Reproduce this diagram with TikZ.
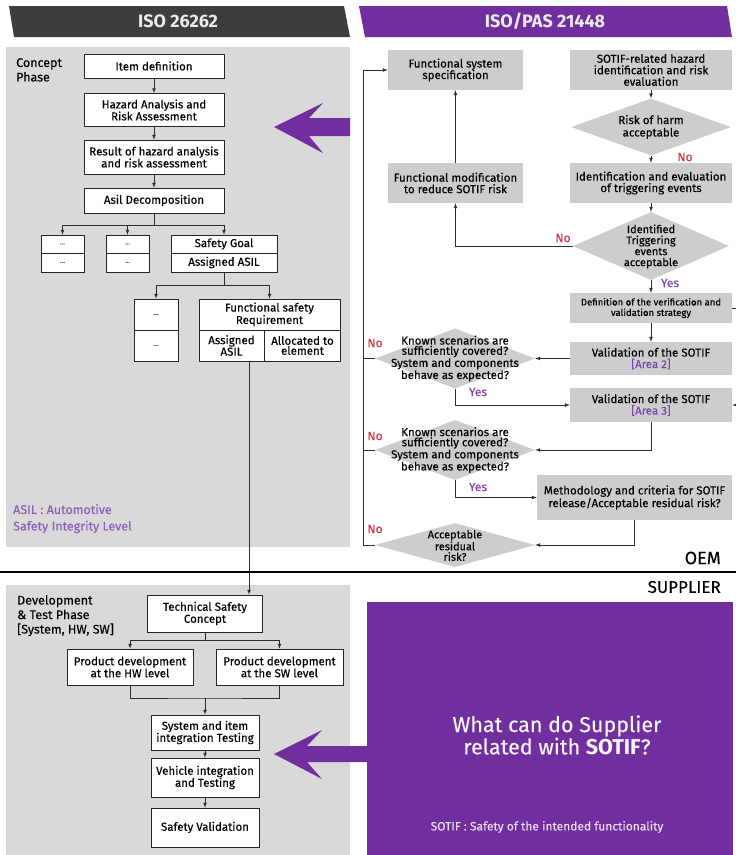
\documentclass[tikz,border=0pt]{standalone}
\usepackage{fontspec}
\setmainfont{Fira Sans}[FakeBold=0.2,BoldFeatures={FakeBold=0}]
\usetikzlibrary{arrows,shapes,positioning,calc}

\definecolor{panelgray}{RGB}{217,217,217}
\definecolor{boxgray}{RGB}{205,205,205}
\definecolor{darkbar}{RGB}{61,61,61}
\definecolor{sotifpurple}{RGB}{112,46,158}
\definecolor{nored}{RGB}{214,48,60}
\definecolor{yespurple}{RGB}{122,72,172}
\definecolor{asilpurple}{RGB}{140,96,180}
\definecolor{linegray}{RGB}{45,45,45}

\begin{document}
\begin{tikzpicture}[x=1pt,y=-1pt]
\tikzstyle{every node}+=[inner sep=0pt]
\tikzstyle{wbox}=[draw=black!85,fill=white,line width=0.6pt,align=center,font=\fontsize{11.5}{12}\selectfont]
\tikzstyle{gbox}=[fill=boxgray,align=center,font=\fontsize{11.5}{11.5}\selectfont]
\tikzstyle{dia}=[diamond,fill=boxgray]
\tikzstyle{dtext}=[align=center,font=\fontsize{11.5}{10.2}\selectfont]
\tikzstyle{dots}=[wbox,font=\fontsize{7}{8}\selectfont,text=black!70]
\tikzstyle{line}=[draw=linegray,line width=0.7pt]
\tikzstyle{arr}=[line,-latex]
\tikzstyle{nolabel}=[text=nored,font=\fontsize{12}{13}\selectfont]
\tikzstyle{yeslabel}=[text=yespurple,font=\fontsize{12}{13}\selectfont]
\tikzstyle{phase}=[align=left,anchor=north west,font=\fontsize{12.5}{14.5}\selectfont]
\tikzstyle{headtext}=[text=white!92!black,font=\bfseries\fontsize{18}{20}\selectfont]

\useasboundingbox (0,0) rectangle (736,855);

% headers
\fill[darkbar] (9,6) -- (344,6) -- (350,37) -- (14,37) -- cycle;
\node[headtext] (iso) at (178,21.5) {ISO 26262};
\fill[sotifpurple] (359,6) -- (727,6) -- (732,37) -- (365,37) -- cycle;
\node[headtext] (pas) at (545,21.5) {ISO/PAS 21448};

% ISO 26262 panels
\fill[panelgray] (6,47) rectangle (350,547);
\fill[panelgray] (6,585) rectangle (350,855);

% concept phase
\node[phase] (concept) at (16,58) {Concept\\Phase};
\node[wbox,minimum width=140pt,minimum height=24pt] (item) at (154,66) {Item definition};
\node[wbox,minimum width=140pt,minimum height=33pt] (hara) at (154,110) {Hazard Analysis and\\Risk Assessment};
\node[wbox,minimum width=140pt,minimum height=34pt] (result) at (154,157) {Result of hazard analysis\\and risk assessment};
\node[wbox,minimum width=140pt,minimum height=25pt] (decomp) at (154,200.5) {Asil Decomposition};
\draw[arr] (item) -- (hara);
\draw[arr] (hara) -- (result);
\draw[arr] (result) -- (decomp);

\node[dots,minimum width=43pt,minimum height=18pt] (dotsa) at (62.5,244) {...};
\node[dots,minimum width=43pt,minimum height=19pt] (dotsb) at (62.5,262.5) {...};
\node[dots,minimum width=43pt,minimum height=18pt] (dotsc) at (127.5,244) {...};
\node[dots,minimum width=43pt,minimum height=19pt] (dotsd) at (127.5,262.5) {...};
\node[wbox,minimum width=106pt,minimum height=18pt] (goal) at (224,244) {Safety Goal};
\node[wbox,minimum width=106pt,minimum height=19pt] (goalasil) at (224,262.5) {Assigned ASIL};
\coordinate (split1) at (154,225);
\draw[line] (decomp) -- (split1);
\draw[arr] (split1) -| (dotsa.north);
\draw[arr] (split1) -| (dotsc.north);
\draw[arr] (split1) -| (goal.north);

\node[dots,minimum width=44pt,minimum height=31pt] (dotse) at (156,314.5) {...};
\node[dots,minimum width=44pt,minimum height=31pt] (dotsf) at (156,345.5) {...};
\node[wbox,minimum width=141pt,minimum height=31pt,font=\fontsize{11.5}{10.5}\selectfont] (fsr) at (269.5,314.5) {Functional safety\\Requirement};
\node[wbox,minimum width=65pt,minimum height=31pt,font=\fontsize{11.5}{10}\selectfont] (fsrasil) at (231.5,345.5) {Assigned\\ASIL};
\node[wbox,minimum width=76pt,minimum height=31pt,font=\fontsize{11.5}{10}\selectfont] (fsrelem) at (302.5,345.5) {Allocated to\\element};
\coordinate (split2) at (224,285);
\draw[line] (goalasil) -- (split2);
\draw[arr] (split2) -| (dotse.north);
\draw[arr] (split2) -| (fsr.north);

\node[phase,text=asilpurple,font=\fontsize{12.5}{16.5}\selectfont] (asilnote) at (13,504) {ASIL : Automotive\\Safety Integrity Level};

% development & test phase
\node[phase] (devel) at (17,595) {Development\\\& Test Phase\\{}[System, HW, SW]};
\node[wbox,minimum width=115pt,minimum height=37pt] (tsc) at (205,613.5) {Technical Safety\\Concept};
\node[wbox,minimum width=126pt,minimum height=36pt] (hw) at (130,667) {Product development\\at the HW level};
\node[wbox,minimum width=127pt,minimum height=36pt] (sw) at (279.5,667) {Product development\\at the SW level};
\node[wbox,minimum width=108pt,minimum height=35pt] (sys) at (205,732.5) {System and item\\integration Testing};
\node[wbox,minimum width=108pt,minimum height=39pt] (veh) at (205,777.5) {Vehicle integration\\and Testing};
\node[wbox,minimum width=108pt,minimum height=39pt] (sval) at (205,827.5) {Safety Validation};
\coordinate (drop) at (249,361);
\draw[arr] (drop) -- (drop |- tsc.north);
\coordinate (split3) at (205,640);
\draw[line] (tsc) -- (split3);
\draw[arr] (split3) -| (hw.north);
\draw[arr] (split3) -| (sw.north);
\coordinate (join) at (205,698);
\draw[line] (hw.south) |- (join) -| (sw.south);
\draw[arr] (join) -- (sys);
\draw[arr] (sys) -- (veh);
\draw[arr] (veh) -- (sval);

% ISO/PAS 21448 flow
\node[gbox,minimum width=135pt,minimum height=40pt] (fss) at (455.5,70) {Functional system\\specification};
\node[gbox,minimum width=162pt,minimum height=40pt] (haz) at (651,70) {SOTIF-related hazard\\identification and risk\\evaluation};
\node[dia,minimum width=160pt,minimum height=57pt] (harm) at (651,127) {};
\node[dtext,font=\fontsize{11.5}{12.5}\selectfont] (harmtxt) at (harm) {Risk of harm\\acceptable};
\node[gbox,minimum width=162pt,minimum height=40pt] (ident) at (651,183) {Identification and evaluation\\of triggering events};
\node[gbox,minimum width=135pt,minimum height=40pt] (fmod) at (455.5,183) {Functional modification\\to reduce SOTIF risk};
\node[dia,minimum width=156pt,minimum height=68pt] (trig) at (651,246) {};
\node[dtext,font=\fontsize{11}{11}\selectfont] (trigtxt) at (651,246.5) {Identified\\Triggering\\events\\acceptable};
\node[gbox,minimum width=162pt,minimum height=30pt,font=\fontsize{9.5}{10.5}\selectfont] (vvs) at (651,308) {Definition of the verification and\\validation strategy};
\node[gbox,minimum width=162pt,minimum height=33pt] (area2) at (651,358.5) {Validation of the SOTIF\\\textcolor{yespurple}{[Area 2]}};
\node[gbox,minimum width=162pt,minimum height=34pt] (area3) at (651,405) {Validation of the SOTIF\\\textcolor{yespurple}{[Area 3]}};
\node[dia,minimum width=160pt,minimum height=60pt] (cov1) at (455,358.5) {};
\node[dtext] (cov1txt) at (cov1) {Known scenarios are\\sufficiently covered?\\System and components\\behave as expected?};
\node[dia,minimum width=160pt,minimum height=60pt] (cov2) at (455,450) {};
\node[dtext] (cov2txt) at (cov2) {Known scenarios are\\sufficiently covered?\\System and components\\behave as expected?};
\node[gbox,minimum width=195pt,minimum height=45pt] (meth) at (634.5,497.5) {Methodology and criteria for SOTIF\\release/Acceptable residual risk?};
\node[dia,minimum width=160pt,minimum height=44pt] (resid) at (455,545) {};
\node[dtext,font=\fontsize{11}{10.5}\selectfont] (residtxt) at (455,545.5) {Acceptable\\residual\\risk?};

\draw[arr] (fmod) -- (fss);
\draw[arr] (haz) -- (harm);
\draw[arr] (harm) -- (ident);
\node[nolabel] (no1) at (685,157) {No};
\draw[arr] (ident) -- (trig);
\draw[arr] (trig.west) -| (fmod.south);
\node[nolabel] (no2) at (563,238) {No};
\draw[arr] (trig) -- (vvs);
\node[yeslabel] (yes1) at (670,283) {Yes};
\coordinate (vvsout) at (736,308);
\draw[line] (vvs.east) -- (vvsout);
\draw[arr] (vvs) -- (area2);
\draw[arr] (area2) -- (cov1);
\draw[arr] (cov1.south) |- (area3.west);
\node[yeslabel] (yes2) at (478,392) {Yes};
\coordinate (area3in) at (736,405);
\draw[arr] (area3in) -- (area3.east);
\draw[arr] (area3.south) |- (cov2.east);
\draw[arr] (cov2.south) |- (meth.west);
\node[yeslabel] (yes3) at (478,487) {Yes};
\draw[arr] (meth.south) |- (resid.east);
\coordinate (loop) at (363,70);
\draw[arr] (resid.west) -| (loop) -- (fss.west);
\draw[line] (cov1.west) -- (cov1.west -| loop);
\draw[line] (cov2.west) -- (cov2.west -| loop);
\node[nolabel] (no3) at (375,343) {No};
\node[nolabel] (no4) at (375,436) {No};
\node[nolabel] (no5) at (375,529) {No};

% OEM / supplier
\draw[line width=2.5pt] (0,572) -- (736,572);
\node[anchor=east,font=\fontsize{18}{20}\selectfont] (oem) at (721,558) {OEM};
\node[anchor=east,font=\fontsize{17}{19}\selectfont] (supplier) at (721,587) {SUPPLIER};

% purple arrows and supplier box
\fill[sotifpurple] (274,127) -- (323,103) -- (309,118) -- (350,118) -- (350,136) -- (309,136) -- (323,153) -- cycle;
\fill[sotifpurple] (367,602) rectangle (733,855);
\fill[sotifpurple] (274,754) -- (322,730) -- (307,746) -- (368,746) -- (368,762) -- (307,762) -- (322,779) -- cycle;
\node[align=center,text=white!95!sotifpurple,font=\fontsize{21.5}{21}\selectfont] (question) at (557,735) {What can do Supplier\\related with \textbf{SOTIF}?};
\node[text=white!85!sotifpurple,font=\fontsize{12}{13}\selectfont] (sotifdef) at (547,827) {SOTIF : Safety of the intended functionality};
\end{tikzpicture}
\end{document}
